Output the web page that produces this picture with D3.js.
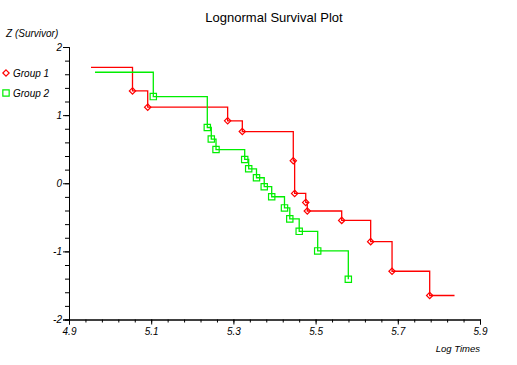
<!DOCTYPE html>
<html>
<head>
<meta charset="utf-8">
<script src="https://cdn.jsdelivr.net/npm/d3@7"></script>
<style>
  body { margin: 0; background: #fff; }
  text { font-family: "Liberation Sans", Arial, sans-serif; }
</style>
</head>
<body>
<svg id="chart" width="517" height="365"></svg>
<script>
// ---- data ----
const group1LogTimes = [5.0545, 5.0915, 5.286, 5.3217, 5.4457, 5.449, 5.476, 5.4798, 5.5635, 5.634, 5.686, 5.7776];
const group1Z        = [1.355, 1.117, 0.916, 0.759, 0.33, -0.149, -0.281, -0.407, -0.545, -0.857, -1.292, -1.648];
const group1Start    = [4.9535, 1.70];
const group1EndX     = 5.838;

const group2LogTimes = [5.1051, 5.2365, 5.2462, 5.2577, 5.3275, 5.3372, 5.3562, 5.375, 5.3932, 5.4243, 5.4372, 5.4601, 5.5051, 5.5796];
const group2Z        = [1.272, 0.818, 0.649, 0.495, 0.349, 0.212, 0.081, -0.051, -0.198, -0.362, -0.523, -0.706, -0.993, -1.41];
const group2Start    = [4.9633, 1.629];
const group2EndX     = null;

const xTickLabels = [4.9, 5.1, 5.3, 5.5, 5.7, 5.9];
const yTickLabels = [-2, -1, 0, 1, 2];
const groupNames  = ["Group 1", "Group 2"];
const groupColors = ["#ff0000", "#00ee00"];

// ---- chart ----
const svg = d3.select("#chart");
const x = d3.scaleLinear().domain([4.9, 5.9]).range([69, 480]);
const y = d3.scaleLinear().domain([-2, 2]).range([319.5, 47]);

// title
svg.append("text").attr("x", 274).attr("y", 22).attr("text-anchor", "middle")
  .attr("font-size", 13).attr("fill", "#000").text("Lognormal Survival Plot");

// axis labels
svg.append("text").attr("x", 6).attr("y", 37).attr("font-size", 10).attr("font-style", "italic")
  .text("Z (Survivor)");
svg.append("text").attr("x", 480).attr("y", 352).attr("text-anchor", "end").attr("font-size", 9.5)
  .attr("font-style", "italic").text("Log Times");

// axes
const xMinor = d3.range(0, 26).map(i => 4.9 + i * 0.04);
const yMinor = d3.range(0, 21).map(i => -2 + i * 0.2);
const yFmt = d => String(d);

const gx = svg.append("g").attr("transform", `translate(0,${y(-2)})`);
gx.call(d3.axisBottom(x).tickValues(xMinor).tickSize(3).tickFormat(""));
gx.append("g").call(d3.axisBottom(x).tickValues(xTickLabels).tickSize(5).tickPadding(3).tickFormat(d3.format(".1f")));
const gy = svg.append("g").attr("transform", `translate(${x(4.9)},0)`);
gy.call(d3.axisLeft(y).tickValues(yMinor).tickSize(4).tickFormat(""));
gy.append("g").call(d3.axisLeft(y).tickValues(yTickLabels).tickSize(6).tickPadding(1).tickFormat(yFmt));
svg.selectAll(".domain").attr("stroke", "#000").attr("stroke-width", 1);
svg.selectAll(".tick line").attr("stroke", "#000");
svg.selectAll(".tick text").attr("font-family", "Liberation Sans, Arial, sans-serif")
  .attr("font-size", 10).attr("font-style", "italic").attr("fill", "#000");

// symbols
const diamond = { draw(ctx, size) { const r = Math.sqrt(size / 2); ctx.moveTo(0, -r); ctx.lineTo(r, 0); ctx.lineTo(0, r); ctx.lineTo(-r, 0); ctx.closePath(); } };
const symbols = [d3.symbol().type(diamond).size(20), d3.symbol().type(d3.symbolSquare).size(40)];

// step curves
function stepPath(start, xs, zs, endX) {
  const pts = [[start[0], start[1]]];
  let prev = start[1];
  xs.forEach((v, i) => { pts.push([v, prev]); pts.push([v, zs[i]]); prev = zs[i]; });
  if (endX !== null) pts.push([endX, prev]);
  return d3.line().x(d => x(d[0])).y(d => y(d[1]))(pts);
}

const groups = [
  { start: group1Start, xs: group1LogTimes, zs: group1Z, end: group1EndX },
  { start: group2Start, xs: group2LogTimes, zs: group2Z, end: group2EndX }
];

groups.forEach((g, gi) => {
  svg.append("path").attr("d", stepPath(g.start, g.xs, g.zs, g.end))
    .attr("fill", "none").attr("stroke", groupColors[gi]).attr("stroke-width", 1.3);
});
groups.forEach((g, gi) => {
  svg.append("g").selectAll("path").data(g.xs).join("path")
    .attr("transform", (d, i) => `translate(${x(d)},${y(g.zs[i])})`)
    .attr("d", symbols[gi]).attr("fill", "none").attr("stroke", groupColors[gi]).attr("stroke-width", 1.2);
});

// legend
groupNames.forEach((name, gi) => {
  const ly = 73 + gi * 20;
  svg.append("path").attr("transform", `translate(6,${ly})`).attr("d", symbols[gi])
    .attr("fill", "none").attr("stroke", groupColors[gi]).attr("stroke-width", 1.2);
  svg.append("text").attr("x", 13).attr("y", ly + 4).attr("font-size", 10)
    .attr("font-style", "italic").text(name);
});
</script>
</body>
</html>
